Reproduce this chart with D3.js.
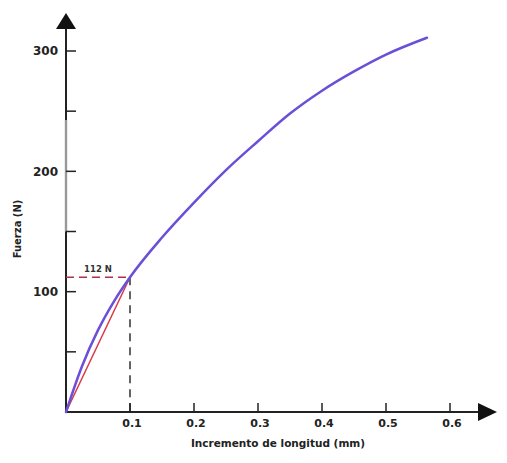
<!DOCTYPE html>
<meta charset="utf-8">
<style>
body{
    margin: 0;
    background: #fff;
}
svg text{
    font-family: "DejaVu Sans", Verdana, sans-serif;
    font-weight: bold;
    fill: #222;
}
</style>
<body>
    <script src="https://d3js.org/d3.v7.min.js"></script>
    <script>
        // datos
        const alargamiento = [0, 0.025, 0.05, 0.075, 0.1, 0.15, 0.2, 0.25, 0.3, 0.35, 0.4, 0.45, 0.5, 0.564];
        const fuerza = [0, 38, 68, 92, 112, 145, 174, 201, 225, 248, 267, 283, 297, 311];
        const tramoLineal = [[0, 0], [0.1, 112]];
        const xTicks = [0.1, 0.2, 0.3, 0.4, 0.5, 0.6];
        const yTicks = [50, 100, 150, 200, 250, 300];
        const yLabels = [100, 200, 300];
        const puntoRef = {x: 0.1, y: 112, label: "112 N"};

        let width = 507;
        let height = 463;

        const svg = d3.select("body")
                    .append("svg")
                    .attr("width", width)
                    .attr("height", height);

        const x = d3.scaleLinear().domain([0, 0.6]).range([66, 450]);
        const y = d3.scaleLinear().domain([0, 300]).range([412, 51]);

        const x0 = x(0), y0 = y(0);

        // ejes
        svg.append("line")
            .attr("x1", x0).attr("y1", y0)
            .attr("x2", x0).attr("y2", 26)
            .style("stroke", "#222")
            .style("stroke-width", 2);
        svg.append("line")
            .attr("x1", x0).attr("y1", 120)
            .attr("x2", x0).attr("y2", y(150))
            .style("stroke", "#999")
            .style("stroke-width", 2.4);
        svg.append("line")
            .attr("x1", x0 - 1).attr("y1", y0)
            .attr("x2", 480).attr("y2", y0)
            .style("stroke", "#222")
            .style("stroke-width", 2);

        // flechas
        svg.append("path")
            .attr("d", `M${x0},13 L${x0 - 10},29 L${x0 + 10},29 Z`)
            .style("fill", "#111");
        svg.append("path")
            .attr("d", `M497,${y0} L478,${y0 - 9} L478,${y0 + 9} Z`)
            .style("fill", "#111");

        // marcas
        svg.selectAll(".ytick")
            .data(yTicks)
            .join("line")
            .attr("class", "ytick")
            .attr("x1", x0).attr("x2", x0 + 10)
            .attr("y1", d => y(d)).attr("y2", d => y(d))
            .style("stroke", "#222")
            .style("stroke-width", 1.5);
        svg.selectAll(".xtick")
            .data(xTicks)
            .join("line")
            .attr("class", "xtick")
            .attr("x1", d => x(d)).attr("x2", d => x(d))
            .attr("y1", y0).attr("y2", y0 - 9)
            .style("stroke", "#222")
            .style("stroke-width", 1.5);

        svg.selectAll(".ylab")
            .data(yLabels)
            .join("text")
            .attr("class", "ylab")
            .attr("x", 58)
            .attr("y", d => y(d))
            .attr("dy", "0.36em")
            .attr("text-anchor", "end")
            .style("font-size", "12px")
            .text(d => d);
        svg.selectAll(".xlab")
            .data(xTicks)
            .join("text")
            .attr("class", "xlab")
            .attr("x", d => x(d) + 2)
            .attr("y", 427)
            .attr("text-anchor", "middle")
            .style("font-size", "11px")
            .text(d => d);

        // titulos
        svg.append("text")
            .attr("x", 278)
            .attr("y", 447)
            .attr("text-anchor", "middle")
            .style("font-size", "10.5px")
            .text("Incremento de longitud (mm)");
        svg.append("text")
            .attr("transform", "translate(21,229) rotate(-90)")
            .attr("text-anchor", "middle")
            .style("font-size", "10px")
            .text("Fuerza (N)");

        // lineas de referencia
        svg.append("line")
            .attr("x1", x0).attr("x2", x(puntoRef.x))
            .attr("y1", y(puntoRef.y)).attr("y2", y(puntoRef.y))
            .style("stroke", "#b0304a")
            .style("stroke-width", 1.4)
            .style("stroke-dasharray", "8,5");
        svg.append("line")
            .attr("x1", x(puntoRef.x)).attr("x2", x(puntoRef.x))
            .attr("y1", y(puntoRef.y)).attr("y2", y0)
            .style("stroke", "#222")
            .style("stroke-width", 1.4)
            .style("stroke-dasharray", "8,6");
        svg.append("text")
            .attr("x", 98)
            .attr("y", y(puntoRef.y) - 5)
            .attr("text-anchor", "middle")
            .style("font-size", "8.5px")
            .style("fill", "#333")
            .text(puntoRef.label);

        // tramo lineal
        svg.append("path")
            .datum(tramoLineal)
            .attr("d", d3.line().x(d => x(d[0])).y(d => y(d[1])))
            .style("fill", "none")
            .style("stroke", "#d8384a")
            .style("stroke-width", 1.5);

        // curva
        const puntos = alargamiento.map((d, i) => [d, fuerza[i]]);
        svg.append("path")
            .datum(puntos)
            .attr("d", d3.line()
                .curve(d3.curveMonotoneX)
                .x(d => x(d[0]))
                .y(d => y(d[1])))
            .style("fill", "none")
            .style("stroke", "#6a50d8")
            .style("stroke-width", 2.5)
            .style("stroke-linecap", "round");
    </script>
</body>
</html>
